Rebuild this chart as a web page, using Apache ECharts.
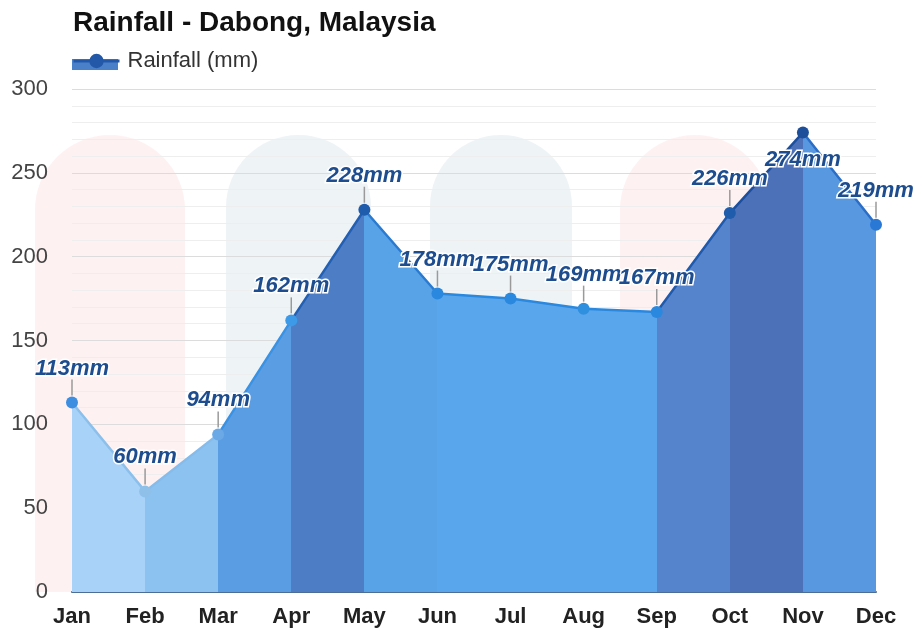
<!DOCTYPE html>
<html>
<head>
<meta charset="utf-8">
<script src="https://cdn.jsdelivr.net/npm/echarts@6/dist/echarts.min.js"></script>
<style>
  html, body { margin: 0; padding: 0; background: #fff; }
  #chart { width: 920px; height: 637px; }
</style>
</head>
<body>
<div id="chart"></div>
<script>
// monthly rainfall
var months = ['Jan', 'Feb', 'Mar', 'Apr', 'May', 'Jun', 'Jul', 'Aug', 'Sep', 'Oct', 'Nov', 'Dec'];
var rainfall = [113, 60, 94, 162, 228, 178, 175, 169, 167, 226, 274, 219];
var yTicks = [0, 50, 100, 150, 200, 250, 300];

// fill colour of each month-to-month band, the line over it, and each dot
var bandColors = ['#a8d2f7', '#8cc2f0', '#5a9de2', '#4d7ec5', '#58a2e8', '#5aa6ec', '#5aa6ec',
  '#5aa6ec', '#5584cd', '#4d71b8', '#5898e0', '#5898e0'];
var lineColors = ['#8cc0ec', '#86bcec', '#3a92e4', '#2360b3', '#2a7ad0', '#2a88de', '#2a88de',
  '#2a88de', '#1f5aac', '#1d4f9f', '#2a6ec8', '#2a78d6'];
var dotColors = ['#3d8ee0', '#8fc0ea', '#6aa8e6', '#3d9ae8', '#1f5cab', '#2a88de', '#2a88de',
  '#3090e0', '#2a88de', '#1f5cab', '#1d4e9a', '#2a78d6'];

function pieces(colors) {
  var out = [];
  for (var i = 0; i < colors.length; i++) {
    out.push({ gte: i, lt: i + 1, color: colors[i] });
  }
  return out;
}

// Nov's label sits below its dot, without a leader
var labelBelow = 'Nov';
var dotData = rainfall.map(function (v, i) {
  if (months[i] === labelBelow) {
    return { value: v, label: { position: 'bottom', distance: 10 } };
  }
  return v;
});
var leaderData = [];
rainfall.forEach(function (v, i) {
  if (months[i] !== labelBelow) leaderData.push([i, v]);
});

var option = {
  animation: false,
  textStyle: { fontFamily: 'Liberation Sans, Arial, sans-serif' },
  title: {
    text: 'Rainfall - Dabong, Malaysia',
    left: 68,
    top: 4,
    textStyle: { fontSize: 28, fontWeight: 'bold', color: '#111' }
  },
  legend: {
    left: 72,
    top: 50,
    padding: 0,
    itemWidth: 46,
    itemHeight: 18,
    itemGap: 10,
    data: [{
      name: 'Rainfall (mm)',
      itemStyle: { color: '#2358a8' },
      lineStyle: { color: '#2358a8', width: 3 }
    }],
    textStyle: { fontSize: 22, color: '#333', padding: [0, 0, 0, 3] }
  },
  grid: { left: 72, right: 44, top: 89, bottom: 45 },
  visualMap: [
    { show: false, type: 'piecewise', seriesIndex: 0, dimension: 0, pieces: pieces(bandColors) },
    { show: false, type: 'piecewise', seriesIndex: 1, dimension: 0, pieces: pieces(lineColors) }
  ],
  xAxis: {
    type: 'category',
    data: months,
    boundaryGap: false,
    axisTick: { show: false },
    axisLine: { lineStyle: { color: '#4c6d96', width: 2 } },
    axisLabel: { fontSize: 22, fontWeight: 'bold', color: '#222', margin: 14 },
    splitLine: { show: false }
  },
  yAxis: {
    type: 'value',
    min: yTicks[0],
    max: yTicks[yTicks.length - 1],
    interval: 50,
    axisLine: { show: false },
    axisTick: { show: false },
    axisLabel: { fontSize: 22, color: '#444', margin: 24 },
    splitLine: { lineStyle: { color: '#dcdcdc' } },
    minorTick: { show: false, splitNumber: 5 },
    minorSplitLine: { show: true, lineStyle: { color: '#eeeeee' } }
  },
  series: [
    {
      name: 'Rainfall (mm)',
      type: 'line',
      data: rainfall,
      symbol: 'none',
      lineStyle: { width: 0 },
      areaStyle: { opacity: 1 },
      z: 2,
      silent: true
    },
    {
      name: 'Rainfall (mm)',
      type: 'line',
      data: rainfall,
      symbol: 'none',
      lineStyle: { width: 2.5 },
      z: 3,
      silent: true
    },
    {
      name: 'leaders',
      type: 'custom',
      data: leaderData,
      z: 4,
      silent: true,
      renderItem: function (params, api) {
        var p = api.coord([api.value(0), api.value(1)]);
        return {
          type: 'line',
          shape: { x1: p[0], y1: p[1] - 7, x2: p[0], y2: p[1] - 23 },
          style: { stroke: '#9a9a9a', lineWidth: 1.5 }
        };
      }
    },
    {
      name: 'dots',
      type: 'scatter',
      data: dotData,
      symbol: 'circle',
      symbolSize: 12,
      z: 5,
      itemStyle: {
        opacity: 1,
        color: function (p) { return dotColors[p.dataIndex]; }
      },
      label: {
        show: true,
        position: 'top',
        distance: 17,
        formatter: function (p) { return rainfall[p.dataIndex] + 'mm'; },
        fontSize: 22,
        fontStyle: 'italic',
        fontWeight: 'bold',
        color: '#1d4d8e',
        textBorderColor: '#fff',
        textBorderWidth: 3
      }
    }
  ],
  graphic: [
    // faint watermark shapes behind the plot
    { type: 'rect', z: 0, silent: true, shape: { x: 35, y: 135, width: 150, height: 457, r: [75, 75, 0, 0] }, style: { fill: 'rgba(245,140,140,0.12)' } },
    { type: 'rect', z: 0, silent: true, shape: { x: 226, y: 135, width: 145, height: 457, r: [72, 72, 0, 0] }, style: { fill: 'rgba(150,180,200,0.16)' } },
    { type: 'rect', z: 0, silent: true, shape: { x: 430, y: 135, width: 142, height: 457, r: [71, 71, 0, 0] }, style: { fill: 'rgba(150,180,200,0.16)' } },
    { type: 'rect', z: 0, silent: true, shape: { x: 620, y: 135, width: 150, height: 457, r: [75, 75, 0, 0] }, style: { fill: 'rgba(245,140,140,0.12)' } },
    // filled box behind the legend's line icon
    { type: 'rect', z: 3, silent: true, shape: { x: 72, y: 59, width: 46, height: 11 }, style: { fill: '#4a80c8' } }
  ]
};

var chart = echarts.init(document.getElementById('chart'));
chart.setOption(option);
</script>
</body>
</html>
